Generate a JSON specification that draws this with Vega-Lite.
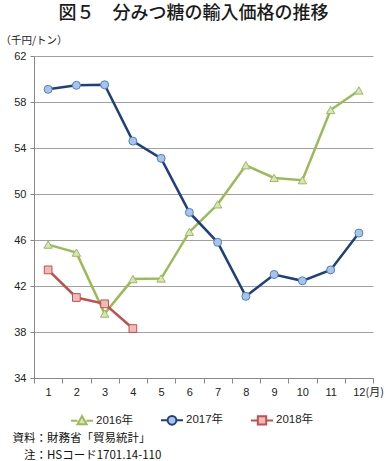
{
  "$schema": "https://vega.github.io/schema/vega-lite/v6.json",
  "width": 339,
  "height": 322,
  "autosize": {"type": "none"},
  "padding": {"left": 34, "top": 56, "right": 13, "bottom": 83},
  "background": "white",
  "title": {"text": "図５　分みつ糖の輸入価格の推移", "font": "Noto Sans CJK JP", "fontSize": 18, "fontWeight": 500, "color": "#1a1a1a", "anchor": "middle", "dx": -10, "offset": 12, "frame": "group"},
  "config": {"view": {"stroke": null}},
  "data": {"values": [
    {"month": 1, "year": "2016年", "value": 45.6},
    {"month": 2, "year": "2016年", "value": 44.9},
    {"month": 3, "year": "2016年", "value": 39.6},
    {"month": 4, "year": "2016年", "value": 42.6},
    {"month": 5, "year": "2016年", "value": 42.65},
    {"month": 6, "year": "2016年", "value": 46.7},
    {"month": 7, "year": "2016年", "value": 49.1},
    {"month": 8, "year": "2016年", "value": 52.5},
    {"month": 9, "year": "2016年", "value": 51.4},
    {"month": 10, "year": "2016年", "value": 51.2},
    {"month": 11, "year": "2016年", "value": 57.3},
    {"month": 12, "year": "2016年", "value": 59.0},
    {"month": 1, "year": "2017年", "value": 59.1},
    {"month": 2, "year": "2017年", "value": 59.45},
    {"month": 3, "year": "2017年", "value": 59.5},
    {"month": 4, "year": "2017年", "value": 54.6},
    {"month": 5, "year": "2017年", "value": 53.1},
    {"month": 6, "year": "2017年", "value": 48.4},
    {"month": 7, "year": "2017年", "value": 45.8},
    {"month": 8, "year": "2017年", "value": 41.1},
    {"month": 9, "year": "2017年", "value": 43.0},
    {"month": 10, "year": "2017年", "value": 42.45},
    {"month": 11, "year": "2017年", "value": 43.4},
    {"month": 12, "year": "2017年", "value": 46.6},
    {"month": 1, "year": "2018年", "value": 43.4},
    {"month": 2, "year": "2018年", "value": 41.0},
    {"month": 3, "year": "2018年", "value": 40.45},
    {"month": 4, "year": "2018年", "value": 38.3}
  ]},
  "encoding": {
    "x": {"field": "month", "type": "ordinal", "scale": {"type": "band", "paddingInner": 0, "paddingOuter": 0}},
    "y": {"field": "value", "type": "quantitative", "scale": {"domain": [34, 62], "nice": false, "zero": false}, "axis": null}
  },
  "layer": [
    {
      "mark": {"type": "line", "strokeWidth": 2.5},
      "encoding": {
        "x": {"field": "month", "type": "ordinal", "scale": {"type": "band", "paddingInner": 0, "paddingOuter": 0},
          "axis": {"title": "(月)", "titleX": 331, "titleY": 14, "titleAlign": "left", "titleBaseline": "middle", "titleFont": "Noto Sans CJK JP", "titleFontSize": 11, "titleFontWeight": "normal", "titleColor": "#222222",
            "labelAngle": 0, "tickBand": "extent", "tickSize": 5, "labelPadding": 3, "domainColor": "#888888", "tickColor": "#888888", "labelFont": "Liberation Sans", "labelFontSize": 11, "labelColor": "#222222", "grid": false}},
        "y": {"field": "value", "type": "quantitative", "scale": {"domain": [34, 62], "nice": false, "zero": false},
          "axis": {"title": "（千円/トン）", "titleX": -34, "titleY": -16, "titleAngle": 0, "titleAlign": "left", "titleBaseline": "middle", "titleFont": "Noto Sans CJK JP", "titleFontSize": 10.5, "titleFontWeight": "normal", "titleColor": "#222222",
            "values": [34, 38, 42, 46, 50, 54, 58, 62], "grid": true, "gridColor": "#a0a0a0", "gridWidth": 1, "tickSize": 4, "labelPadding": 4, "domainColor": "#888888", "tickColor": "#888888", "labelFont": "Liberation Sans", "labelFontSize": 11, "labelColor": "#222222"}},
        "color": {"field": "year", "type": "nominal",
          "scale": {"domain": ["2016年", "2017年", "2018年"], "range": ["#9BBB59", "#1F3F7F", "#C0504D"]},
          "legend": {"title": null, "orient": "none", "legendX": 36, "legendY": 352, "direction": "horizontal", "columns": 3, "gridAlign": "all", "columnPadding": 23, "labelFont": "Liberation Sans, Noto Sans CJK JP", "labelFontSize": 11.5, "labelColor": "#222222", "labelOffset": 2, "symbolSize": 484,
            "encode": {"symbols": {"update": {
              "shape": {"signal": "datum.value == '2016年' ? 'M-1,0H-0.4M0.4,0H1M-0.42,0.34L0,-0.42L0.42,0.34Z' : datum.value == '2017年' ? 'M-1,0H-0.4M0.4,0H1M-0.4,0A0.4,0.4,0,1,1,0.4,0A0.4,0.4,0,1,1,-0.4,0Z' : 'M-1,0H-0.4M0.4,0H1M-0.38,-0.38H0.38V0.38H-0.38Z'"},
              "fill": {"signal": "datum.value == '2016年' ? '#D7E4BD' : datum.value == '2017年' ? '#A9C4EB' : '#F2B9B9'"},
              "stroke": {"signal": "datum.value == '2016年' ? '#9BBB59' : datum.value == '2017年' ? '#1F3F7F' : '#C0504D'"},
              "strokeWidth": {"value": 2},
              "size": {"value": 484},
              "opacity": {"value": 1}
            }}}}}
      }
    },
    {
      "transform": [{"filter": "datum.year == '2016年'"}],
      "mark": {"type": "point", "shape": "triangle-up", "filled": true, "fill": "#D7E4BD", "stroke": "#9BBB59", "strokeWidth": 1, "opacity": 1, "size": 70}
    },
    {
      "transform": [{"filter": "datum.year == '2017年'"}],
      "mark": {"type": "point", "shape": "circle", "filled": true, "fill": "#A9C4EB", "stroke": "#4F81BD", "strokeWidth": 1, "opacity": 1, "size": 64}
    },
    {
      "transform": [{"filter": "datum.year == '2018年'"}],
      "mark": {"type": "point", "shape": "square", "filled": true, "fill": "#F2B9B9", "stroke": "#C0504D", "strokeWidth": 1, "opacity": 1, "size": 60},
      "encoding": {
        "y": {"field": "value", "type": "quantitative", "scale": {"domain": [34, 62], "nice": false, "zero": false},
          "axis": {"orient": "right", "title": ["資料：財務省「貿易統計」", "\u200b\u3000注：HSコード1701.14-110"], "titleX": -361, "titleY": 382, "titleAngle": 0, "titleAlign": "left", "titleBaseline": "middle", "titleFont": "Noto Sans CJK JP", "titleFontSize": 11.5, "titleFontWeight": "normal", "titleLineHeight": 17, "titleColor": "#111111",
            "labels": false, "ticks": false, "domain": false, "grid": false}}
      }
    }
  ],
  "resolve": {"scale": {"y": "independent"}, "axis": {"y": "independent"}}
}
